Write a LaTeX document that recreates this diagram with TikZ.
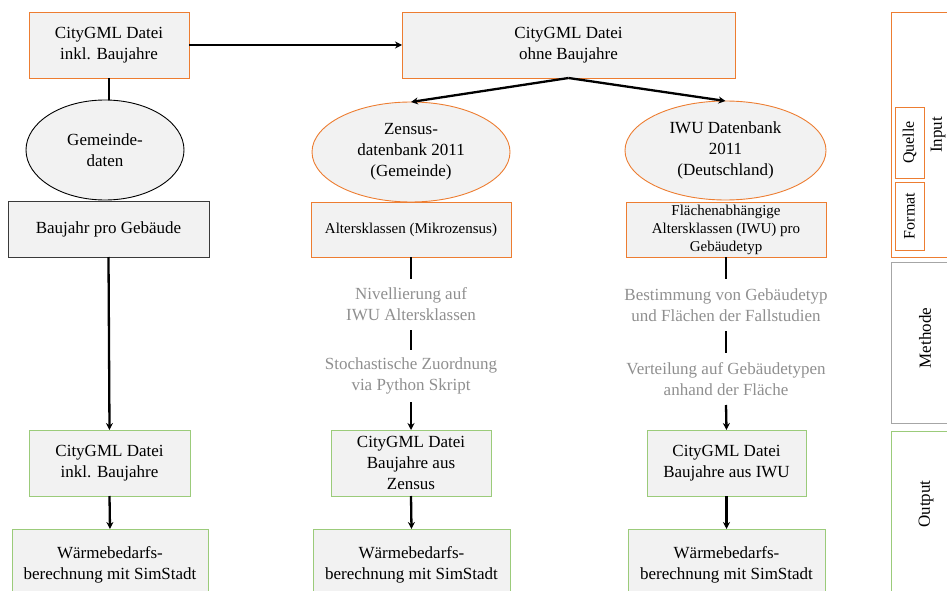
\documentclass[tikz,border=0pt]{standalone}
\usepackage{fontspec}
\setmainfont{Liberation Serif}
\usetikzlibrary{shapes.geometric,arrows.meta}
\definecolor{orC}{HTML}{ED7D31}
\definecolor{grC}{HTML}{9BCB7A}
\definecolor{fillC}{HTML}{F2F2F2}
\definecolor{txtgray}{HTML}{8F8F8F}
\definecolor{midgray}{HTML}{A6A6A6}
\definecolor{darkC}{HTML}{3A3A3A}
\begin{document}
\begin{tikzpicture}[x=1pt,y=-1pt,
  base/.style={fill=fillC, line width=0.9pt, align=center, inner sep=0pt, outer sep=0pt,
    font=\fontsize{17}{21}\selectfont},
  obox/.style={base, rectangle, draw=orC},
  gbox/.style={base, rectangle, draw=grC},
  oell/.style={base, ellipse, draw=orC},
  small/.style={font=\fontsize{15}{18}\selectfont},
  gtext/.style={align=center, inner sep=0pt, outer sep=0pt, text=txtgray,
    font=\fontsize{17}{21}\selectfont, minimum height=52pt},
  conn/.style={line width=2.3pt, black},
  arr/.style={conn, -{Stealth[length=7pt,width=7pt]}},
  side/.style={rotate=90, inner sep=0pt, font=\fontsize{17}{21}\selectfont},
  sidebox/.style={line width=0.9pt, fill=white, anchor=north west, minimum width=69pt, inner sep=0pt}
]
\path[use as bounding box, clip] (0,0) rectangle (947,591);

% column 1
\node[obox, minimum width=160pt, minimum height=66pt] (A) at (109,45) {CityGML Datei\\inkl. Baujahre};
\node[base, ellipse, draw=black, minimum width=158pt, minimum height=100pt] (E1) at (105,150) {Gemeinde-\\daten};
\node[base, rectangle, draw=darkC, minimum width=201pt, minimum height=56pt] (C1) at (108.5,229) {Baujahr pro Gebäude};
\node[gbox, minimum width=161pt, minimum height=66pt] (G1) at (109.5,463) {CityGML Datei\\inkl. Baujahre};
\node[gbox, minimum width=196pt, minimum height=72pt] (W1) at (110,565) {Wärmebedarfs-\\berechnung mit SimStadt};

% top middle
\node[obox, minimum width=333pt, minimum height=66pt] (B) at (568.5,45) {CityGML Datei\\ohne Baujahre};

% column 2
\node[oell, minimum width=198pt, minimum height=100pt] (E2) at (411,152) {Zensus-\\datenbank 2011\\(Gemeinde)};
\node[obox, small, minimum width=200pt, minimum height=55pt] (C2) at (411,229.5) {Altersklassen (Mikrozensus)};
\node[gtext, minimum height=51pt] (T1) at (411,304.5) {Nivellierung auf\\IWU Altersklassen};
\node[gtext] (T2) at (411,376) {Stochastische Zuordnung\\via Python Skript};
\node[gbox, minimum width=160pt, minimum height=66pt] (G2) at (411,463) {CityGML Datei\\Baujahre aus\\Zensus};
\node[gbox, minimum width=197pt, minimum height=72pt] (W2) at (411.5,565) {Wärmebedarfs-\\berechnung mit SimStadt};

% column 3
\node[oell, minimum width=201pt, minimum height=99pt] (E3) at (725.5,150.5) {IWU Datenbank\\2011\\(Deutschland)};
\node[obox, small, minimum width=200pt, minimum height=55pt] (C3) at (726,229.5) {Flächenabhängige\\Altersklassen (IWU) pro\\Gebäudetyp};
\node[gtext] (T3) at (726,305) {Bestimmung von Gebäudetyp\\und Flächen der Fallstudien};
\node[gtext] (T4) at (726,379) {Verteilung auf Gebäudetypen\\anhand der Fläche};
\node[gbox, minimum width=159pt, minimum height=66pt] (G3) at (726.5,463) {CityGML Datei\\Baujahre aus IWU};
\node[gbox, minimum width=197pt, minimum height=72pt] (W3) at (726.5,565) {Wärmebedarfs-\\berechnung mit SimStadt};

% connectors
\draw[arr] (A.east) -- (B.west);
\draw[arr] (B.south) -- (E2.north);
\draw[arr] (B.south) -- (E3.north);
\draw[conn] (A.south) -- (A.south |- E1.north);
\draw[arr] (C1.south) -- (G1.north);
\draw[arr] (G1.south) -- (W1.north);
\draw[conn] (C2.south) -- (T1.north);
\draw[conn] (T1.south) -- (T2.north);
\draw[arr] (T2.south) -- (G2.north);
\draw[arr] (G2.south) -- (W2.north);
\draw[conn] (C3.south) -- (T3.north);
\draw[conn] (T3.south) -- (T4.north);
\draw[arr] (T4.south) -- (G3.north);
\draw[arr] (G3.south) -- (W3.north);

% side legend
\node[sidebox, draw=orC, minimum height=245pt] (In) at (891,12) {};
\node[side] (InT) at (938,135) {Input};
\node[draw=orC, line width=0.9pt, rotate=90, minimum width=71pt, minimum height=29pt, inner sep=0pt,
  font=\fontsize{16}{19}\selectfont] (Q) at (909.5,142.5) {Quelle};
\node[draw=orC, line width=0.9pt, rotate=90, minimum width=68pt, minimum height=29pt, inner sep=0pt,
  font=\fontsize{16}{19}\selectfont] (F) at (909.5,216) {Format};
\node[sidebox, draw=midgray, minimum height=161pt] (Me) at (891,262) {};
\node[side] (MeT) at (925,338) {Methode};
\node[sidebox, draw=grC, minimum height=175pt] (Ou) at (891,431) {};
\node[side] (OuT) at (926,504) {Output};
\end{tikzpicture}
\end{document}
